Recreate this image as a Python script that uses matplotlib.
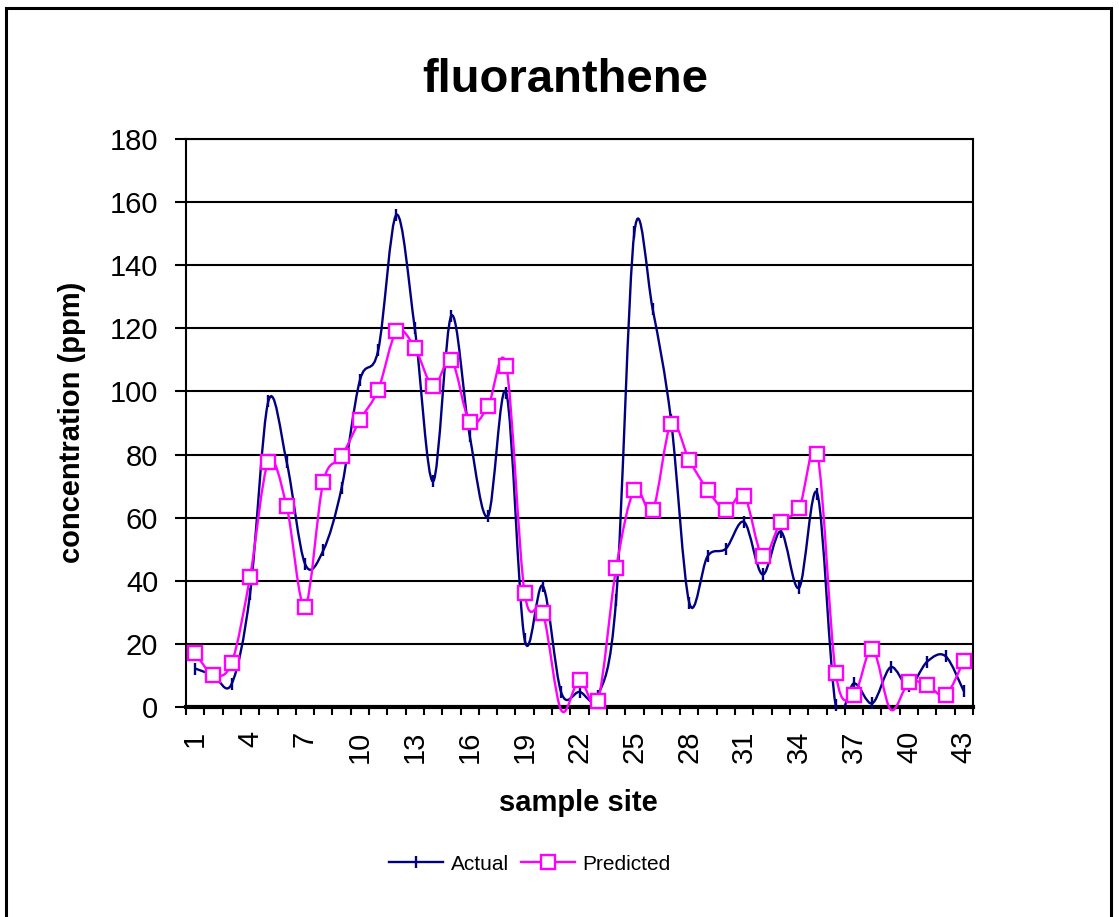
import numpy as np
import matplotlib
matplotlib.use("Agg")
import matplotlib.pyplot as plt
from matplotlib.path import Path
from matplotlib.patches import PathPatch, Rectangle
from matplotlib.lines import Line2D

plt.rcParams['font.family'] = ['Liberation Sans', 'DejaVu Sans']

# data
sites = np.arange(1, 44)
actual = [12.2, 10.0, 7.4, 35.9, 96.9, 77.7, 45.4, 49.6, 69.4, 103.5,
          113.0, 156.0, 120.0, 71.5, 124.0, 86.0, 60.5, 99.5, 21.5, 38.3,
          4.6, 4.8, 3.6, 34.0, 150.5, 126.0, 91.0, 33.0, 47.8, 50.2,
          58.6, 42.0, 55.6, 37.8, 67.5, 0.5, 7.5, 1.2, 12.6, 6.5,
          14.4, 16.1, 5.0]
predicted = [17.1, 10.2, 14.1, 41.3, 77.7, 63.6, 31.8, 71.3, 79.4, 90.9,
             100.5, 119.0, 113.9, 101.7, 110.0, 90.3, 95.3, 108.0, 36.2, 29.9,
             -1.0, 8.7, 2.0, 43.9, 68.8, 62.4, 89.7, 78.2, 68.8, 62.4,
             67.0, 47.8, 58.6, 63.0, 80.1, 10.8, 3.9, 18.5, -0.8, 7.8,
             6.9, 3.8, 14.7]
xtick_sites = list(range(1, 44, 3))
yticks = list(range(0, 181, 20))

NAVY = "#000080"
MAGENTA = "#FF00FF"


def smooth_path(x, y):
    """Excel-like smoothed line: cubic Bezier segments, Catmull-Rom control points."""
    pts = np.column_stack([x, y]).astype(float)
    ext = np.vstack([pts[0], pts, pts[-1]])
    verts = [pts[0]]
    codes = [Path.MOVETO]
    for i in range(len(pts) - 1):
        p0, p1, p2, p3 = ext[i], ext[i + 1], ext[i + 2], ext[i + 3]
        verts += [p1 + (p2 - p0) / 6, p2 - (p3 - p1) / 6, p2]
        codes += [Path.CURVE4] * 3
    return Path(verts, codes)


W, H = 1119, 917
fig = plt.figure(figsize=(W / 100, H / 100), dpi=100)
ax = fig.add_axes([186 / W, 1 - 707 / H, (973 - 186) / W, (707 - 139) / H])

# outer chart-area border (bottom edge lies outside the picture)
fig.patches.append(Rectangle((6 / W, -0.02), (1111 - 6) / W, 1.02 - 8 / H,
                             transform=fig.transFigure, fill=False,
                             edgecolor="black", lw=2.2))

ax.set_xlim(0.5, 43.5)
ax.set_ylim(0, 180)

ax.add_patch(PathPatch(smooth_path(sites, actual), fill=False,
                       edgecolor=NAVY, lw=1.7, zorder=3))
ax.plot(sites, actual, ls="none", marker="|", ms=8, mew=1.7,
        color=NAVY, zorder=4, clip_on=False)

pred = np.array(predicted)
ax.add_patch(PathPatch(smooth_path(sites, pred), fill=False,
                       edgecolor=MAGENTA, lw=1.7, zorder=5, clip_on=False))
ax.plot(sites, np.where(pred >= 0, pred, np.nan), ls="none", marker="s",
        ms=9.5, mew=1.7, mfc="white", mec=MAGENTA, zorder=6, clip_on=False)

# axes styling (Excel look)
ax.set_yticks(yticks)
ax.yaxis.grid(True, color="black", lw=1.5, zorder=0)
ax.set_axisbelow(True)
ax.tick_params(axis="y", direction="out", length=8, width=1.5, pad=12,
               labelsize=21)
ax.set_xticks(xtick_sites)
ax.set_xticklabels([str(s) for s in xtick_sites], rotation=90)
ax.set_xticks(np.arange(0.5, 44, 1), minor=True)
ax.tick_params(axis="x", which="major", length=0, pad=17, labelsize=21)
ax.tick_params(axis="x", which="minor", direction="out", length=5.5, width=1.5)
for s in ["left", "right", "top"]:
    ax.spines[s].set_linewidth(1.5)
ax.spines["bottom"].set_linewidth(3)

fig.text(565 / W, 1 - 92 / H, "fluoranthene", ha="center", va="baseline",
         fontsize=34, fontweight="bold")
fig.text(72 / W, 1 - 422 / H, "concentration (ppm)", ha="center", va="center",
         rotation=90, fontsize=21, fontweight="bold")
fig.text(578 / W, 1 - 803 / H, "sample site", ha="center", va="center",
         fontsize=21, fontweight="bold")

handles = [Line2D([], [], color=NAVY, lw=1.7, marker="|", ms=8, mew=1.7),
           Line2D([], [], color=MAGENTA, lw=1.7, marker="s", ms=9.5, mew=1.7,
                  mfc="white", mec=MAGENTA)]
fig.legend(handles, ["Actual", "Predicted"], loc="center",
           bbox_to_anchor=(530 / W, 1 - 864 / H), ncol=2, frameon=False,
           fontsize=15, handlelength=2.6, handletextpad=0.35,
           columnspacing=0.6)

fig.savefig("out.png", dpi=100, facecolor="white")
